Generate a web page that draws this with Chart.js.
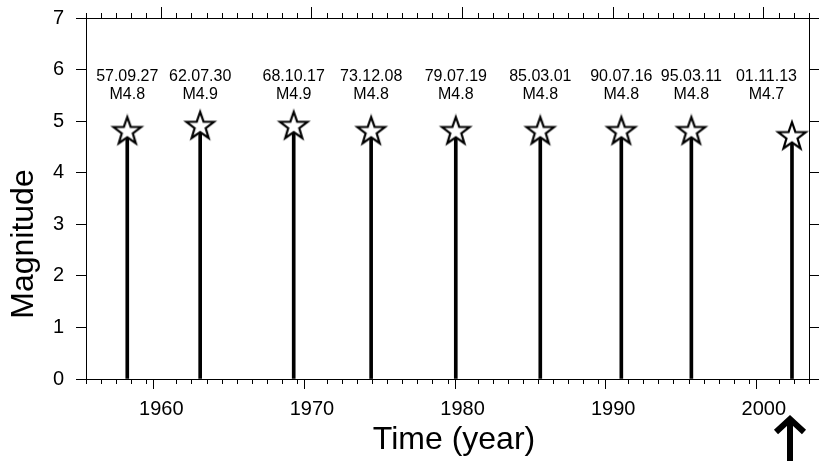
<!DOCTYPE html>
<html>
<head>
<meta charset="utf-8">
<script src="https://cdn.jsdelivr.net/npm/chart.js@4.4.1/dist/chart.umd.min.js"></script>
<style>
  body { margin: 0; background: #fff; }
  #wrap { width: 821px; height: 461px; }
</style>
</head>
<body>
<div id="wrap"><canvas id="myChart" width="821" height="461"></canvas></div>
<script>
// eventos (fecha yy.mm.dd, año decimal, magnitud)
var fechas = ['57.09.27', '62.07.30', '68.10.17', '73.12.08', '79.07.19', '85.03.01', '90.07.16', '95.03.11', '01.11.13']
var anios = [1957.74, 1962.58, 1968.79, 1973.93, 1979.55, 1985.16, 1990.54, 1995.19, 2001.87]
var magnitudes = [4.8, 4.9, 4.9, 4.8, 4.8, 4.8, 4.8, 4.8, 4.7]

var anioMin = 1955
var anioMax = 2003
var magMin = 0
var magMax = 7

var fuente = "'Liberation Sans', Arial, Helvetica, sans-serif"
Chart.defaults.font.family = fuente
Chart.defaults.color = '#000'

// estrella blanca con borde negro para cada evento
function crearEstrella() {
    var c = document.createElement('canvas')
    c.width = 36
    c.height = 36
    var g = c.getContext('2d')
    var R = 14.5, r = 5.8, cx = 18, cy = 18
    g.beginPath()
    for (var i = 0; i < 10; i++) {
        var rad = i % 2 === 0 ? R : r
        var ang = -Math.PI / 2 + i * Math.PI / 5
        var px = cx + rad * Math.cos(ang)
        var py = cy + rad * Math.sin(ang)
        if (i === 0) g.moveTo(px, py); else g.lineTo(px, py)
    }
    g.closePath()
    g.fillStyle = '#fff'
    g.fill()
    g.lineWidth = 2.2
    g.lineJoin = 'miter'
    g.strokeStyle = '#000'
    g.stroke()
    return c
}

var puntos = anios.map(function (a, i) { return { x: a, y: magnitudes[i] } })

function ticksAnuales(s) {
    var t = []
    for (var v = anioMin; v <= anioMax; v++) t.push({ value: v })
    s.ticks = t
}

function colorTick(c) {
    return c.tick && c.tick.value % 10 === 0 ? '#000' : 'rgba(0,0,0,0)'
}

// tamaño fijo de cada eje, sin relleno extra por las etiquetas
function fijar(ancho, alto) {
    return function (s) {
        if (ancho !== null) s.width = ancho
        if (alto !== null) s.height = alto
        s.paddingTop = 0
        s.paddingBottom = 0
        s.paddingLeft = 0
        s.paddingRight = 0
    }
}

// marcas menores de cada año, arriba y abajo
const marcasMenores = {
    id: 'marcasMenores',
    afterDraw(chart) {
        var ctx = chart.ctx
        ctx.save()
        ctx.strokeStyle = '#000'
        ctx.lineWidth = 1
        ;['x', 'xTop'].forEach(function (id) {
            var s = chart.scales[id]
            s.ticks.forEach(function (t) {
                if (t.value % 10 === 0) return
                var px = Math.round(s.getPixelForValue(t.value)) + 0.5
                var y0 = id === 'x' ? s.top : s.bottom
                var y1 = id === 'x' ? y0 + 5 : y0 - 5
                ctx.beginPath()
                ctx.moveTo(px, y0)
                ctx.lineTo(px, y1)
                ctx.stroke()
            })
        })
        ctx.restore()
    }
}

// fecha y magnitud encima de cada estrella
const etiquetas = {
    id: 'etiquetas',
    afterDatasetsDraw(chart) {
        var ctx = chart.ctx
        var xs = chart.scales.x
        var ys = chart.scales.y
        var area = chart.chartArea
        var yFecha = ys.getPixelForValue(5.86)
        ctx.save()
        ctx.fillStyle = '#000'
        ctx.font = '16px ' + fuente
        ctx.textAlign = 'center'
        ctx.textBaseline = 'middle'
        anios.forEach(function (a, i) {
            var txtM = 'M' + magnitudes[i].toFixed(1)
            var w = Math.max(ctx.measureText(fechas[i]).width, ctx.measureText(txtM).width)
            var cx = xs.getPixelForValue(a)
            if (cx + w / 2 > area.right - 12) cx = area.right - 12 - w / 2
            ctx.fillText(fechas[i], cx, yFecha)
            ctx.fillText(txtM, cx, yFecha + 17.5)
        })
        ctx.restore()
    }
}

// títulos y flecha bajo el último evento
const extras = {
    id: 'extras',
    afterDraw(chart) {
        var ctx = chart.ctx
        var xs = chart.scales.x
        var area = chart.chartArea
        ctx.save()
        ctx.fillStyle = '#000'
        ctx.font = '32px ' + fuente
        ctx.textAlign = 'center'
        ctx.textBaseline = 'middle'
        ctx.fillText('Time (year)', 454, 440)
        ctx.translate(24, 244)
        ctx.rotate(-Math.PI / 2)
        ctx.fillText('Magnitude', 0, 0)
        ctx.restore()

        var ax = Math.round(xs.getPixelForValue(anios[anios.length - 1])) - 2
        var tip = area.bottom + 38
        ctx.save()
        ctx.strokeStyle = '#000'
        ctx.lineWidth = 6
        ctx.lineJoin = 'miter'
        ctx.beginPath()
        ctx.moveTo(ax, tip + 3)
        ctx.lineTo(ax, chart.height)
        ctx.stroke()
        ctx.beginPath()
        ctx.moveTo(ax - 14, tip + 15)
        ctx.lineTo(ax, tip + 2)
        ctx.lineTo(ax + 14, tip + 15)
        ctx.stroke()
        ctx.restore()
    }
}

var ctx = document.getElementById('myChart').getContext('2d')
var myChart = new Chart(ctx, {
    type: 'scatter',
    data: {
        datasets: [{
            type: 'scatter',
            data: puntos,
            pointStyle: crearEstrella(),
            pointRadius: 15,
            order: 0
        }, {
            type: 'bar',
            data: puntos,
            backgroundColor: '#000',
            borderWidth: 0,
            barThickness: 3,
            order: 1
        }]
    },
    options: {
        responsive: false,
        animation: false,
        devicePixelRatio: 1,
        layout: { padding: 0, autoPadding: false },
        plugins: { legend: { display: false }, tooltip: { enabled: false } },
        scales: {
            x: {
                type: 'linear', position: 'bottom', min: anioMin, max: anioMax, offset: false,
                afterBuildTicks: ticksAnuales,
                afterFit: fijar(null, 82),
                border: { display: true, color: '#000', width: 1 },
                grid: { drawOnChartArea: false, tickLength: 10, tickColor: colorTick, tickWidth: 1 },
                ticks: {
                    autoSkip: false, maxRotation: 0, padding: 8, font: { size: 20 },
                    callback: function (v) { return v % 10 === 0 ? String(v) : '' }
                }
            },
            xTop: {
                type: 'linear', position: 'top', min: anioMin, max: anioMax, offset: false,
                afterBuildTicks: ticksAnuales,
                afterFit: fijar(null, 18),
                border: { display: true, color: '#000', width: 1 },
                grid: { drawOnChartArea: false, tickLength: 11, tickColor: colorTick, tickWidth: 1 },
                ticks: { display: false }
            },
            y: {
                type: 'linear', position: 'left', min: magMin, max: magMax,
                afterFit: fijar(86, null),
                border: { display: true, color: '#000', width: 1 },
                grid: { drawOnChartArea: false, tickLength: 10, color: '#000' },
                ticks: { stepSize: 1, padding: 12, font: { size: 20 } }
            },
            yRight: {
                type: 'linear', position: 'right', min: magMin, max: magMax,
                afterFit: fijar(12, null),
                border: { display: true, color: '#000', width: 1 },
                grid: { drawOnChartArea: false, tickLength: 10, color: '#000' },
                ticks: { stepSize: 1, display: false }
            }
        }
    },
    plugins: [marcasMenores, etiquetas, extras]
});
</script>
</body>
</html>
